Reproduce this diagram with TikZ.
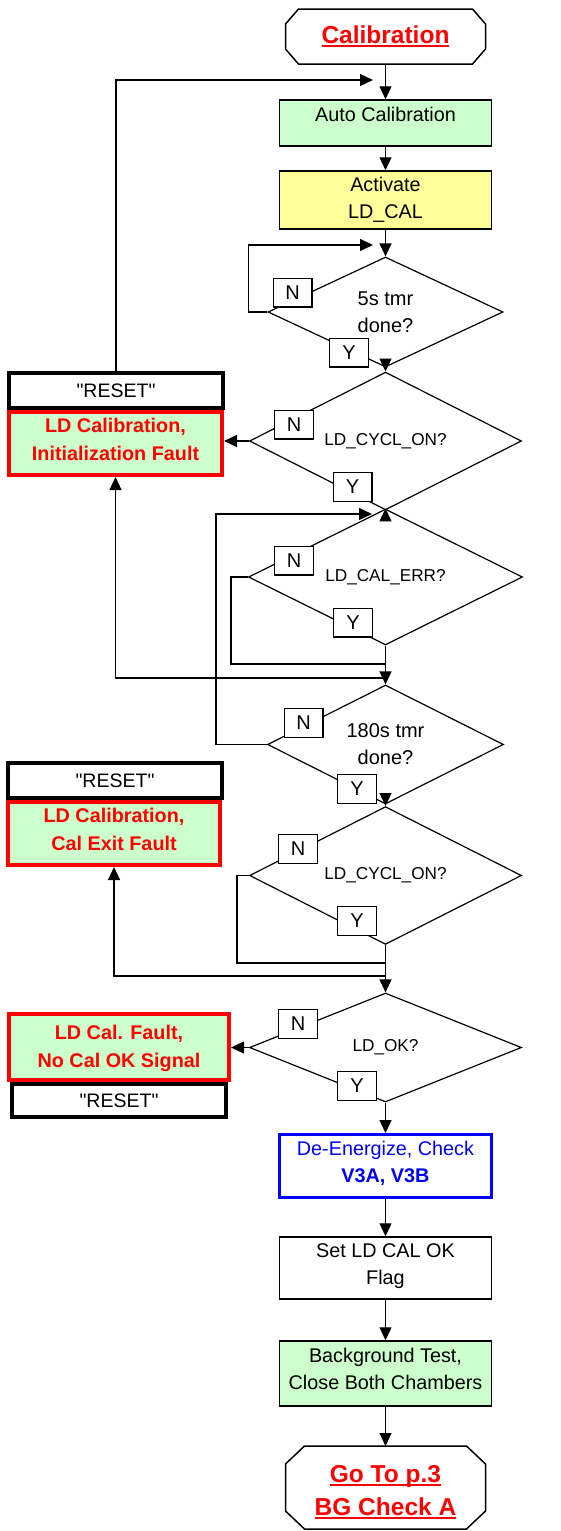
\documentclass[tikz,border=0pt]{standalone}
\usepackage{fontspec}
\setmainfont{Liberation Sans}
\newfontfamily\plainfont{Liberation Sans}
\usetikzlibrary{shapes.geometric,arrows.meta}
\definecolor{lgreen}{HTML}{CCFFCC}
\definecolor{lyellow}{HTML}{FFFF99}
\definecolor{fred}{HTML}{FF0000}
\definecolor{fblue}{HTML}{0000FF}
\newcommand\myul[1]{\leavevmode\setbox0\hbox{#1}\rlap{\rule[-3.5pt]{\wd0}{2pt}}\box0}
\newcommand\tbox[4]{\parbox[c][#2][t]{#1}{\centering\rule{0pt}{#3}#4}}
\newcommand\qt{{\plainfont\char34}}
\newcommand\octa[3]{\draw[line width=1.5pt] ([xshift=#2]#1.north west) -- ([xshift=-#2]#1.north east) -- ([yshift=-#3]#1.north east) -- ([yshift=#3]#1.south east) -- ([xshift=-#2]#1.south east) -- ([xshift=#2]#1.south west) -- ([yshift=#3]#1.south west) -- ([yshift=-#3]#1.north west) -- cycle;}
\begin{document}
\begin{tikzpicture}[x=1pt,y=-1pt,
  procbox/.style={draw, line width=1.5pt, inner sep=0pt, font=\fontsize{19.8}{27}\selectfont},
  term/.style={inner sep=0pt, outer sep=0pt, text=fred, font=\bfseries\fontsize{24.5}{33}\selectfont},
  dec/.style={diamond, draw, line width=1.2pt, inner sep=0pt, align=center, fill=white, font=\fontsize{20}{27}\selectfont},
  decs/.style={dec, font=\fontsize{17.2}{22}\selectfont},
  yn/.style={draw, fill=white, line width=1.2pt, minimum width=38.8pt, minimum height=28.8pt, inner sep=0pt, font=\fontsize{20}{24}\selectfont},
  resetbox/.style={draw, line width=4pt, fill=white, inner sep=0pt, minimum width=214pt, font=\fontsize{19.5}{24}\selectfont},
  faultbox/.style={draw=fred, line width=4pt, fill=lgreen, inner sep=0pt, text=fred, font=\bfseries\fontsize{19.8}{28}\selectfont},
  arr/.style={line width=1.2pt, -{Triangle[length=13pt,width=12pt]}},
  conn/.style={line width=1.2pt}]
\path[fill=white, use as bounding box] (0,0) rectangle (561,1531);

% terminators
\node[term] (cal) at (385.5,36.5) {\tbox{200pt}{55pt}{34.5pt}{\myul{Calibration}}};
\octa{cal}{13pt}{15pt}
\node[term] (goto) at (385.5,1487.5) {\tbox{200pt}{83pt}{36pt}{\myul{Go To p.3}\\\myul{BG Check A}}};
\octa{goto}{19pt}{18pt}

% process boxes
\node[procbox, fill=lgreen] (auto) at (385.5,123) {\tbox{212pt}{46pt}{21pt}{Auto Calibration}};
\node[procbox, fill=lyellow] (act) at (385.5,200) {\tbox{212pt}{58pt}{20pt}{Activate\\LD\_CAL}};
\node[procbox, draw=fblue, line width=3pt, fill=white, text=fblue] (de) at (385.5,1166) {\tbox{212pt}{63pt}{20.5pt}{De-Energize, Check\\\textbf{V3A, V3B}}};
\node[procbox, fill=white] (setok) at (385.5,1268) {\tbox{212pt}{62pt}{20pt}{Set LD CAL OK\\Flag}};
\node[procbox, fill=lgreen] (bg) at (385.5,1373.5) {\tbox{212pt}{65pt}{21pt}{Background Test,\\Close Both Chambers}};

% decisions
\node[dec, minimum width=235pt, minimum height=110pt] (d1) at (385.5,312) {5s tmr\\done?};
\node[decs, minimum width=272pt, minimum height=108pt] (d2) at (385.5,441) {LD\_CYCL\_ON?};
\node[decs, minimum width=274pt, minimum height=108pt] (d3) at (385.5,577) {LD\_CAL\_ERR?};
\node[dec, minimum width=236pt, minimum height=109pt] (d4) at (385.5,744.5) {180s tmr\\done?};
\node[decs, minimum width=272pt, minimum height=107pt] (d5) at (385.5,875.5) {LD\_CYCL\_ON?};
\node[decs, minimum width=272pt, minimum height=109pt] (d6) at (385.5,1047.5) {LD\_OK?};

% fault and reset boxes
\node[resetbox, minimum height=35pt] (r1) at (116,390.5) {\qt RESET\qt};
\node[faultbox] (f1) at (115.5,443.5) {\tbox{213pt}{63pt}{20pt}{LD Calibration,\\Initialization Fault}};
\node[resetbox, minimum height=35pt] (r2) at (115,780.5) {\qt RESET\qt};
\node[faultbox] (f2) at (114,833.5) {\tbox{212pt}{63pt}{20pt}{LD Calibration,\\Cal Exit Fault}};
\node[faultbox] (f3) at (119,1047) {\tbox{220pt}{66pt}{25pt}{LD Cal. Fault,\\No Cal OK Signal}};
\node[resetbox, minimum height=33pt] (r3) at (119,1100.5) {\qt RESET\qt};

% connectors
\coordinate (fb1) at (373,80);
\coordinate (fb2) at (373,245);
\coordinate (fb3) at (372,514);
\coordinate (j1) at (385.5,664);
\coordinate (j2) at (385.5,678);
\coordinate (j3) at (385.5,963);
\coordinate (j4) at (385.5,976);
\draw[arr] (cal.south) -- (auto.north);
\draw[arr] (r1.north) |- (fb1);
\draw[arr] (auto.south) -- (act.north);
\draw[arr] (act.south) -- (d1.north);
\draw[arr] (d1.west) -- ++(-19,0) |- (fb2);
\draw[arr] (d1.south) -- (d2.north);
\draw[arr] (d2.west) -- (d2.west -| f1.east);
\draw[arr] (d2.south) -- (d3.north);
\draw[arr] (d4.west) -- ++(-51,0) |- (fb3);
\draw[conn] (d3.west) -- ++(-17,0) |- (j1);
\draw[arr] (d3.south) -- (d4.north);
\draw[arr] (j2) -| (f1.south);
\draw[arr] (d4.south) -- (d5.north);
\draw[conn] (d5.west) -- ++(-12,0) |- (j3);
\draw[arr] (j4) -| (f2.south);
\draw[arr] (d5.south) -- (d6.north);
\draw[arr] (d6.west) -- (d6.west -| f3.east);
\draw[arr] (d6.south) -- (de.north);
\draw[arr] (de.south) -- (setok.north);
\draw[arr] (setok.south) -- (bg.north);
\draw[arr] (bg.south) -- (goto.north);

% N / Y labels
\node[yn] (n1) at (292.5,292.5) {N};
\node[yn] (y1) at (349,352.5) {Y};
\node[yn] (n2) at (294,424.5) {N};
\node[yn] (y2) at (352.5,487) {Y};
\node[yn] (n3) at (294,560.5) {N};
\node[yn] (y3) at (353,622.5) {Y};
\node[yn] (n4) at (303.5,723) {N};
\node[yn] (y4) at (357,789) {Y};
\node[yn] (n5) at (298,849) {N};
\node[yn] (y5) at (357,921) {Y};
\node[yn] (n6) at (298,1024) {N};
\node[yn] (y6) at (357,1086) {Y};
\end{tikzpicture}
\end{document}
